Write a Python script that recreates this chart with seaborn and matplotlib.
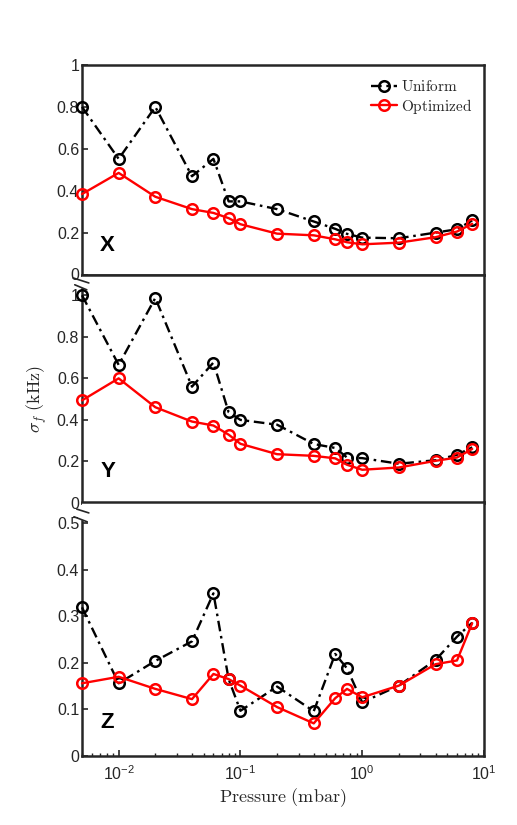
import matplotlib
matplotlib.use("Agg")
import matplotlib.pyplot as plt
from matplotlib.font_manager import FontProperties
import seaborn as sns
import numpy as np
import pandas as pd

sns.set_style("white")
plt.rcParams['font.family'] = ['Liberation Sans', 'DejaVu Sans']
plt.rcParams['mathtext.fontset'] = 'custom'
plt.rcParams['mathtext.rm'] = 'Liberation Sans'
plt.rcParams['mathtext.it'] = 'Liberation Sans:italic'
plt.rcParams['mathtext.bf'] = 'Liberation Sans:bold'

# ---- data ----
pressure = [0.005, 0.01, 0.02, 0.04, 0.06, 0.08, 0.1, 0.2, 0.4, 0.6, 0.75, 1, 2, 4, 6, 8]

uniform_x = [0.80, 0.552, 0.80, 0.469, 0.552, 0.349, 0.349, 0.312, 0.253, 0.218, 0.194, 0.176, 0.173, 0.200, 0.216, 0.258]
optim_x   = [0.384, 0.485, 0.371, 0.312, 0.294, 0.269, 0.240, 0.195, 0.187, 0.168, 0.154, 0.144, 0.152, 0.178, 0.205, 0.242]

uniform_y = [1.00, 0.665, 0.987, 0.560, 0.676, 0.437, 0.400, 0.377, 0.284, 0.265, 0.219, 0.216, 0.189, 0.206, 0.232, 0.268]
optim_y   = [0.494, 0.600, 0.461, 0.392, 0.373, 0.329, 0.285, 0.235, 0.227, 0.215, 0.184, 0.160, 0.171, 0.203, 0.219, 0.260]

uniform_z = [0.319, 0.156, 0.204, 0.246, 0.349, 0.165, 0.097, 0.149, 0.096, 0.219, 0.188, 0.115, 0.151, 0.206, 0.256, 0.286]
optim_z   = [0.156, 0.170, 0.144, 0.122, 0.176, 0.165, 0.151, 0.105, 0.070, 0.124, 0.144, 0.126, 0.151, 0.197, 0.205, 0.285]

panel_names = ["X", "Y", "Z"]
series_labels = ["Uniform", "Optimized"]
ylims = [(0, 1.0), (0, 1.1), (0, 0.545)]
yticks = [[0, 0.2, 0.4, 0.6, 0.8, 1], [0, 0.2, 0.4, 0.6, 0.8, 1], [0, 0.1, 0.2, 0.3, 0.4, 0.5]]
ytlabels = [["0", "0.2", "0.4", "0.6", "0.8", "1"], ["0", "0.2", "0.4", "0.6", "0.8", "1"],
            ["0", "0.1", "0.2", "0.3", "0.4", "0.5"]]
xticks = [0.01, 0.1, 1, 10]
xtlabels = [r"$10^{-2}$", r"$10^{-1}$", r"$10^{0}$", r"$10^{1}$"]

uniforms = [uniform_x, uniform_y, uniform_z]
optims = [optim_x, optim_y, optim_z]

# ---- layout ----
W, H = 517, 825
fig = plt.figure(figsize=(W / 100, H / 100), dpi=100)
left = 82 / W
width = 402 / W
panels_px = [(65, 274.5), (274.5, 503), (502, 756)]
axes = []
for top, bot in panels_px:
    ax = fig.add_axes([left, (H - bot) / H, width, (bot - top) / H])
    axes.append(ax)

spine_col = "#262626"
for i, ax in enumerate(axes):
    df = pd.DataFrame({"p": pressure, "u": uniforms[i], "o": optims[i]})
    sns.lineplot(data=df, x="p", y="u", ax=ax, color="black", linestyle=(0, (4.5, 2.0, 1.1, 2.0)),
                 lw=1.7, marker="o", ms=7.6, mfc="none", mec="black", mew=1.8,
                 sort=False, clip_on=False, zorder=3)
    sns.lineplot(data=df, x="p", y="o", ax=ax, color="#ff0000", linestyle="-",
                 lw=1.7, marker="o", ms=7.6, mfc="none", mec="#ff0000", mew=1.8,
                 sort=False, clip_on=False, zorder=4)
    ax.set_xscale("log")
    ax.set_xlim(0.005, 10)
    ax.set_ylim(*ylims[i])
    ax.set_yticks(yticks[i])
    ax.set_yticklabels(ytlabels[i])
    ax.set_xlabel("")
    ax.set_ylabel("")
    for s in ax.spines.values():
        s.set_color(spine_col)
        s.set_linewidth(1.8)
    ax.tick_params(axis="y", direction="in", length=4, width=1.2, colors=spine_col,
                   labelsize=11.5, labelcolor=spine_col, pad=2, left=True, right=False)
    ax.text(0.045, 0.09, panel_names[i], transform=ax.transAxes, fontsize=16,
            fontweight="bold", color="black", ha="left", va="bottom")
    if i < 2:
        ax.tick_params(axis="x", which="both", bottom=False, top=False, labelbottom=False)
    else:
        ax.set_xticks(xticks)
        ax.set_xticklabels(xtlabels)
        ax.tick_params(axis="x", which="major", direction="in", length=4, width=1.2,
                       colors=spine_col, labelsize=11.5, labelcolor=spine_col, pad=6,
                       bottom=True, top=False)
        ax.tick_params(axis="x", which="minor", direction="in", length=2.5, width=1.0,
                       colors=spine_col, bottom=True, top=False)
        ax.set_xlabel(r"$\mathrm{Pressure\ (mbar)}$", color=spine_col, labelpad=2,
                      fontproperties=FontProperties(size=13, math_fontfamily="cm"))
    if i == 0:
        handles = ax.get_lines()[:2]
        ax.legend(handles, [r"$\mathrm{Uniform}$", r"$\mathrm{Optimized}$"],
                  loc="upper right", bbox_to_anchor=(1.0, 0.99), frameon=False,
                  prop=FontProperties(size=11, math_fontfamily="cm"),
                  handlelength=1.7, handletextpad=0.25, labelspacing=0.15,
                  borderaxespad=0.4)

# break marks on left spine for Y and Z panels
axes[1].spines["left"].set_bounds(0, 1.03)
axes[2].spines["left"].set_bounds(0, 0.505)
for ax, marks in [(axes[1], [((-0.022, 0.985), (0.017, 0.963)), ((-0.018, 0.955), (0.012, 0.933))]),
                  (axes[2], [((-0.013, 0.972), (0.017, 0.957)), ((-0.020, 0.942), (0.013, 0.922))])]:
    for (x0, y0), (x1, y1) in marks:
        ax.plot([x0, x1], [y0, y1], transform=ax.transAxes, color=spine_col, lw=1.2,
                clip_on=False, zorder=5)

fig.text(0.072, 0.517, r"$\sigma_f\ \mathrm{(kHz)}$", rotation=90,
         fontproperties=FontProperties(size=13, math_fontfamily="cm"),
         color=spine_col, ha="center", va="center")

fig.savefig("out.png", dpi=100)
